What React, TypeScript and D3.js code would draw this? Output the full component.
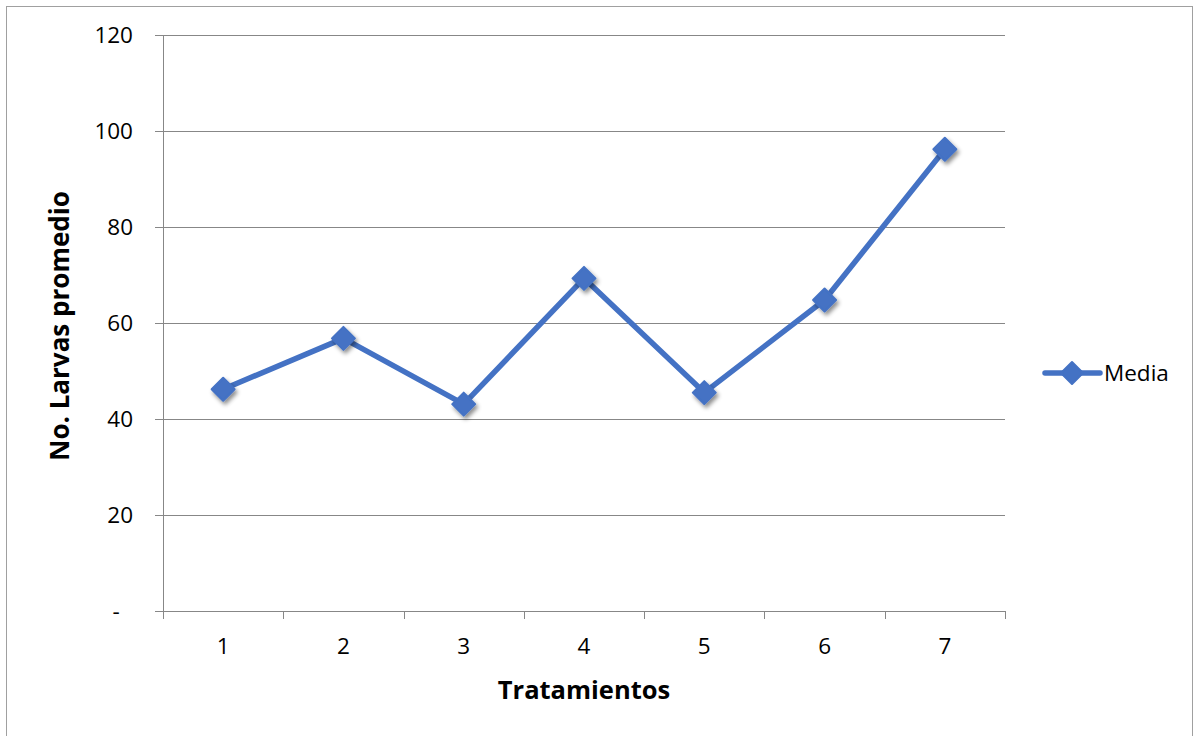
import React from "react";
import * as d3 from "d3";

// Mean larvae count per treatment
const treatments = ["1", "2", "3", "4", "5", "6", "7"];
const media = [46.2, 56.8, 43.1, 69.3, 45.5, 64.8, 96.2];
const yTicks = [0, 20, 40, 60, 80, 100, 120];
const yTickLabels = ["-", "20", "40", "60", "80", "100", "120"];
const seriesName = "Media";
const xTitle = "Tratamientos";
const yTitle = "No. Larvas promedio";

const W = 1195;
const H = 736;
const plot = { left: 163, right: 1005, top: 35, bottom: 611 };
const BLUE = "#4472C4";
const GRID = "#878787";
const FONT = "'Open Sans', 'Liberation Sans', sans-serif";

export default function App() {
  const x = d3
    .scaleBand<string>()
    .domain(treatments)
    .range([plot.left, plot.right])
    .padding(0);
  const y = d3.scaleLinear().domain([0, 120]).range([plot.bottom, plot.top]);

  const cx = (t: string) => (x(t) ?? 0) + x.bandwidth() / 2;
  const line = d3
    .line<number>()
    .x((_, i) => cx(treatments[i]))
    .y((d) => y(d));

  const diamond = (px: number, py: number, r: number) =>
    `M${px},${py - r}L${px + r},${py}L${px},${py + r}L${px - r},${py}Z`;

  const boundaries = treatments.map((t) => x(t) ?? 0).concat([plot.right]);

  const legendY = 373;

  return (
    <svg
      width={W}
      height={H}
      style={{ position: "absolute", left: 0, top: 0, background: "#fff" }}
      fontFamily={FONT}
    >
      <defs>
        <filter id="mshadow" x="-50%" y="-50%" width="200%" height="200%">
          <feDropShadow dx="2" dy="3" stdDeviation="2" floodColor="#000" floodOpacity="0.45" />
        </filter>
      </defs>
      {/* chart frame */}
      <rect x={6.5} y={6.5} width={1186} height={740} fill="none" stroke="#a0a0a0" strokeWidth={1} />

      {/* horizontal gridlines with left tick stubs */}
      {yTicks.map((t) => (
        <line
          key={t}
          x1={plot.left - 8}
          x2={plot.right}
          y1={Math.round(y(t)) + 0.5}
          y2={Math.round(y(t)) + 0.5}
          stroke={GRID}
          strokeWidth={1}
        />
      ))}
      {/* value axis */}
      <line x1={plot.left + 0.5} x2={plot.left + 0.5} y1={plot.top} y2={plot.bottom + 8} stroke={GRID} />
      {/* category ticks */}
      {boundaries.map((b, i) => (
        <line
          key={i}
          x1={Math.round(b) + 0.5}
          x2={Math.round(b) + 0.5}
          y1={plot.bottom}
          y2={plot.bottom + 8}
          stroke={GRID}
        />
      ))}

      {/* y tick labels (zero shown as a dash, accounting style) */}
      {yTicks.map((t, i) => (
        <text
          key={t}
          x={t === 0 ? 116 : 133}
          y={y(t)}
          dy="0.35em"
          textAnchor={t === 0 ? "middle" : "end"}
          fontSize={22.5}
          fill="#000"
        >
          {yTickLabels[i]}
        </text>
      ))}
      {/* x tick labels */}
      {treatments.map((t) => (
        <text key={t} x={cx(t)} y={654} textAnchor="middle" fontSize={22.5} fill="#000">
          {t}
        </text>
      ))}

      {/* axis titles */}
      <text
        x={584}
        y={699}
        textAnchor="middle"
        fontSize={25.5}
        fontWeight="bold"
        fill="#000"
      >
        {xTitle}
      </text>
      <text
        transform={`translate(69,${(plot.top + plot.bottom) / 2 + 3}) rotate(-90)`}
        textAnchor="middle"
        fontSize={26}
        fontWeight="bold"
        fill="#000"
      >
        {yTitle}
      </text>

      {/* series */}
      <path
        d={line(media) ?? ""}
        fill="none"
        stroke={BLUE}
        strokeWidth={5.5}
        strokeLinejoin="round"
      />
      <g filter="url(#mshadow)">
        {media.map((v, i) => (
          <path key={i} d={diamond(cx(treatments[i]), y(v), 11.5)} fill={BLUE} stroke={BLUE} strokeWidth={2} strokeLinejoin="round" />
        ))}
      </g>

      {/* legend */}
      <line x1={1045} x2={1100} y1={legendY} y2={legendY} stroke={BLUE} strokeWidth={5.5} strokeLinecap="round" />
      <path d={diamond(1072, legendY, 11)} fill={BLUE} stroke={BLUE} strokeWidth={2} strokeLinejoin="round" />
      <text x={1104} y={legendY} dy="0.35em" fontSize={22.5} fill="#000">
        {seriesName}
      </text>
    </svg>
  );
}
